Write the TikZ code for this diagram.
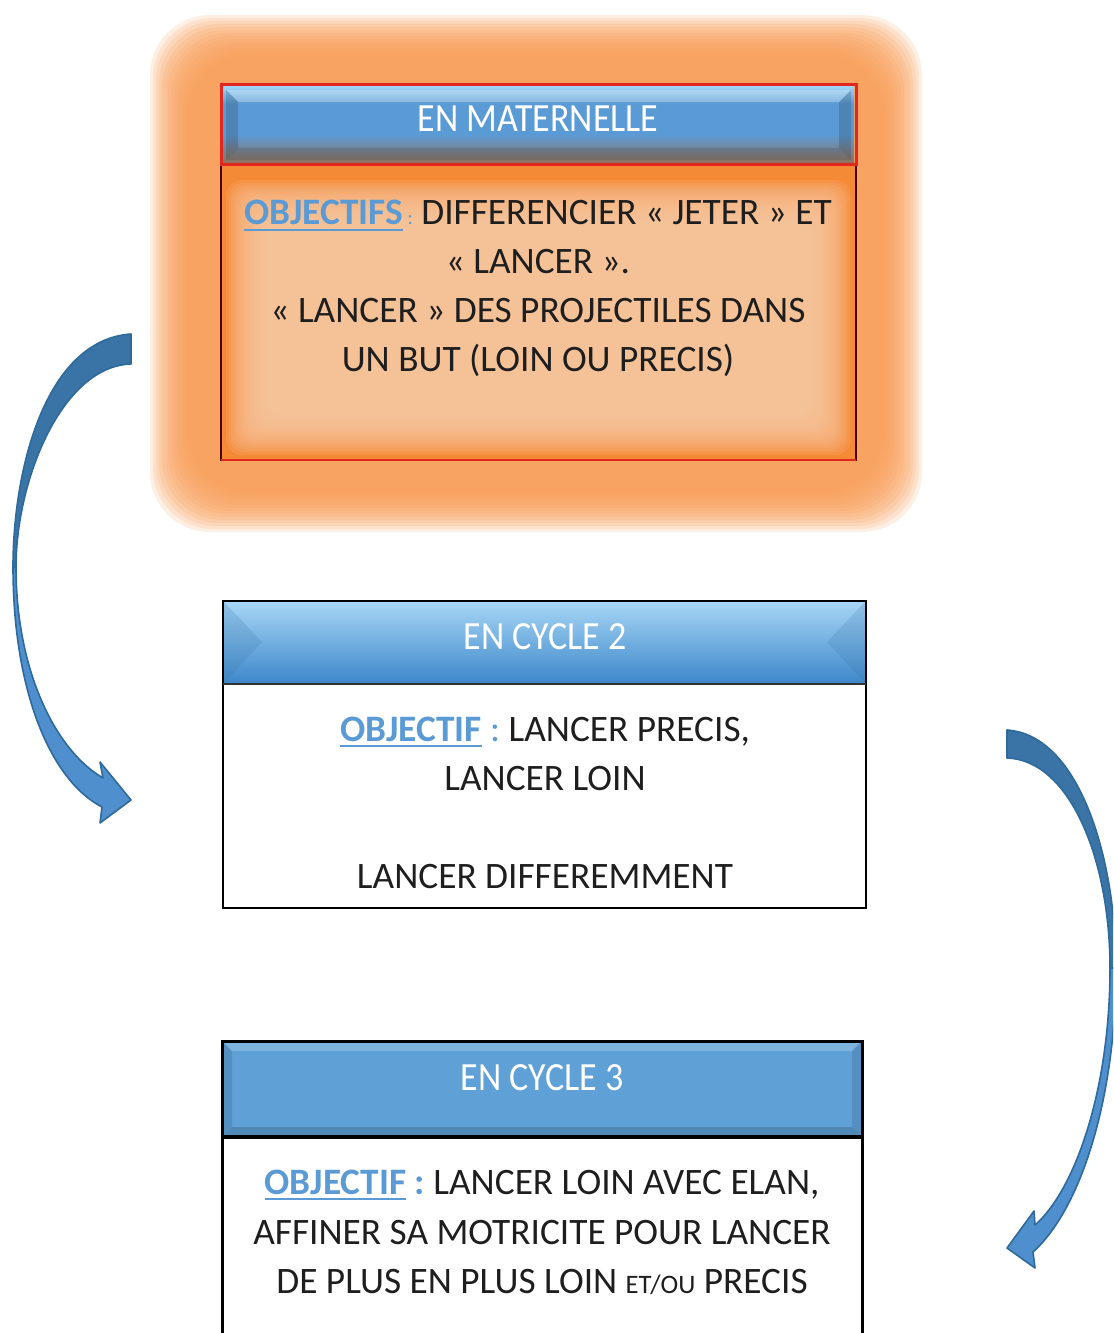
\documentclass[tikz,border=0pt]{standalone}
\usepackage{fontspec}
\usepackage{graphicx}
\setmainfont{Carlito}
\definecolor{objblue}{HTML}{5B9BD5}
\definecolor{ink}{HTML}{1E1E1E}
\definecolor{glow}{HTML}{F79A52}
\definecolor{glowdeep}{HTML}{F58A36}
\definecolor{peach}{HTML}{FCC9A2}
\definecolor{redline}{HTML}{E2281E}
\definecolor{bandlight}{HTML}{9CD2F5}
\definecolor{bandblue}{HTML}{5B9BD5}
\definecolor{bandbrown}{HTML}{8F725E}
\definecolor{hdtwotop}{HTML}{A8D6F6}
\definecolor{hdtwobot}{HTML}{3C87C9}
\definecolor{hdthree}{HTML}{5FA0D7}
\definecolor{arrowdark}{HTML}{3A74A6}
\definecolor{arrowlight}{HTML}{4F8FCE}
\definecolor{arrowline}{HTML}{2F6A9C}
\pgfdeclareverticalshading{matband}{100bp}{color(0bp)=(bandbrown); color(25bp)=(bandbrown);
  color(44bp)=(bandblue); color(64bp)=(bandblue); color(75bp)=(bandlight); color(100bp)=(bandlight)}
\newcommand\objword[1]{\textcolor{objblue}{\bfseries\setbox0\hbox{#1}\rlap{\rule[-4.5pt]{\wd0}{1.8pt}}\box0}}
\newcommand\hdtext[1]{\scalebox{0.9}[1]{#1}}
\tikzset{
  hd/.style={anchor=base, text=white, font=\fontsize{30}{30}\selectfont},
  txt/.style={anchor=base, text=ink, font=\fontsize{28}{28}\selectfont},
  arrowback/.style={fill=arrowdark, draw=arrowline, line width=1.2pt, line join=round},
  arrowfront/.style={fill=arrowlight, draw=arrowline, line width=1.2pt, line join=round}
}
\begin{document}
\begin{tikzpicture}[x=0.75pt,y=-0.75pt]
\useasboundingbox (0,0) rectangle (1113,1333);
\clip (0,0) rectangle (1113,1333);

\foreach \i in {0,...,13}
  \fill[glow, fill opacity=0.16, rounded corners=45pt] (150+\i*3,15+\i*3) rectangle (922-\i*3,532-\i*3);
\fill[glowdeep] (221,165) rectangle (856,460);
\foreach \i in {0,...,17}
  \fill[peach, fill opacity=0.14, rounded corners=12pt] (226+\i*2.5,180+\i*2.5) rectangle (851-\i*2.5,455-\i*2.5);
\draw[black!70!red, line width=1.2pt] (221,165) -- (221,460) -- (856,460) -- (856,165);
\draw[redline, line width=1.2pt] (221,460) -- (856,460);

\shade[shading=matband] (223,87) rectangle (854,163);
\fill[white, fill opacity=0.25] (226,90) -- (851,90) -- (839,102) -- (238,102) -- cycle;
\fill[black, fill opacity=0.15] (226,90) -- (238,102) -- (238,148) -- (226,160) -- cycle;
\fill[black, fill opacity=0.15] (851,90) -- (839,102) -- (839,148) -- (851,160) -- cycle;
\fill[black, fill opacity=0.1] (226,160) -- (238,148) -- (839,148) -- (851,160) -- cycle;
\draw[redline, line width=2.25pt] (221,85) rectangle (856,165);

\node[hd] (matHead) at (538,132) {\hdtext{EN MATERNELLE}};
\node[txt] (mat1) at (538,225) {\objword{OBJECTIFS}\textcolor{objblue}{\fontsize{15}{15}\selectfont\ :}\ DIFFERENCIER « JETER » ET};
\node[txt] (mat2) at (538,274) {« LANCER ».};
\node[txt] (mat3) at (538,323) {« LANCER » DES PROJECTILES DANS};
\node[txt] (mat4) at (538,372) {UN BUT (LOIN OU PRECIS)};

\shade[top color=hdtwotop, bottom color=hdtwobot] (223,601) rectangle (866,684);
\fill[arrowdark, fill opacity=0.2] (223,601) -- (262,642) -- (223,684) -- cycle;
\fill[arrowdark, fill opacity=0.2] (866,601) -- (827,642) -- (866,684) -- cycle;
\draw[black, line width=1.5pt] (223,601) rectangle (866,908);
\draw[black!80, line width=1.5pt] (223,684) -- (866,684);

\node[hd] (cycTwoHead) at (545,649) {\hdtext{EN CYCLE 2}};
\node[txt] (cyc2a) at (545,741) {\objword{OBJECTIF}\textcolor{objblue}{\ :}\ LANCER PRECIS,};
\node[txt] (cyc2b) at (545,790) {LANCER LOIN};
\node[txt] (cyc2c) at (545,888) {LANCER DIFFEREMMENT};

\fill[hdthree] (222,1041) rectangle (862,1137);
\fill[white, fill opacity=0.2] (222,1041) -- (862,1041) -- (852,1051) -- (232,1051) -- cycle;
\fill[black, fill opacity=0.15] (222,1137) -- (232,1127) -- (852,1127) -- (862,1137) -- cycle;
\fill[black, fill opacity=0.1] (222,1041) -- (232,1051) -- (232,1127) -- (222,1137) -- cycle;
\fill[black, fill opacity=0.1] (862,1041) -- (852,1051) -- (852,1127) -- (862,1137) -- cycle;
\draw[black, line width=2.25pt] (222,1360) -- (222,1041) -- (862,1041) -- (862,1360);
\draw[black, line width=3pt] (222,1137) -- (862,1137);

\node[hd] (cycThreeHead) at (542,1090) {\hdtext{EN CYCLE 3}};
\node[txt] (cyc3a) at (542,1194) {\objword{OBJECTIF}\textcolor{objblue}{\bfseries\ :}\ LANCER LOIN AVEC ELAN,};
\node[txt] (cyc3b) at (542,1244) {AFFINER SA MOTRICITE POUR LANCER};
\node[txt] (cyc3c) at (542,1293) {DE PLUS EN PLUS LOIN {\fontsize{20}{20}\selectfont ET/OU} PRECIS};

\path[arrowfront] (13,567) .. controls (13,690) and (50,780) .. (102,807) -- (100,823) -- (131,800)
  -- (100,762) -- (103,778) .. controls (55,750) and (16,670) .. (16,567) -- cycle;
\path[arrowback] (131,334) .. controls (45,340) and (13,470) .. (13,567) -- (16,567)
  .. controls (16,480) and (62,366) .. (131,364) -- cycle;

\path[arrowfront] (1116,968) .. controls (1116,1100) and (1080,1210) .. (1033,1252) -- (1035,1268) -- (1007,1248)
  -- (1034,1211) -- (1035,1225) .. controls (1075,1190) and (1110,1090) .. (1110,968) -- cycle;
\path[arrowback] (1007,730) .. controls (1080,735) and (1116,860) .. (1116,968) -- (1110,968)
  .. controls (1110,860) and (1070,760) .. (1007,758) -- cycle;

\end{tikzpicture}
\end{document}
